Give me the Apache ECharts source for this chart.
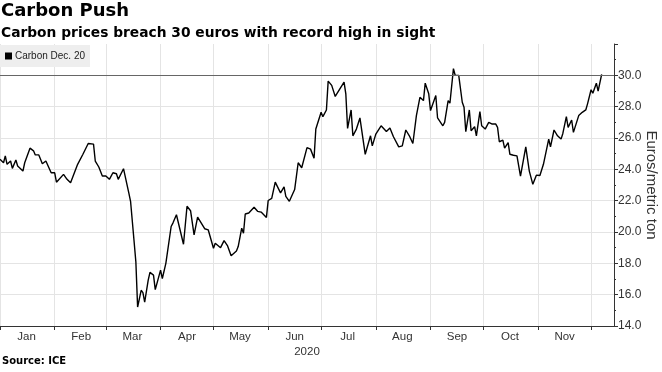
<!DOCTYPE html>
<html>
<head>
<meta charset="utf-8">
<script src="https://cdn.jsdelivr.net/npm/echarts@6/dist/echarts.min.js"></script>
<style>
html,body{margin:0;padding:0;background:#fff;overflow:hidden;}
#chart{width:662px;height:372px;}
</style>
</head>
<body>
<div id="chart"></div>
<script>
const chartTitle = 'Carbon Push';
const chartSubtitle = 'Carbon prices breach 30 euros with record high in sight';
const sourceText = 'Source: ICE';
const seriesName = 'Carbon Dec. 20';
const yAxisName = 'Euros/metric ton';
const xAxisName = '2020';
const monthLabels = ['Jan','Feb','Mar','Apr','May','Jun','Jul','Aug','Sep','Oct','Nov'];
const yMin = 14, yMax = 32, yStep = 2;
const refLevel = 30;

const dates = [
  '2020-01-01','2020-01-03','2020-01-04','2020-01-05','2020-01-07','2020-01-08','2020-01-10','2020-01-11','2020-01-14','2020-01-15',
  '2020-01-18','2020-01-20','2020-01-21','2020-01-23','2020-01-25','2020-01-27','2020-01-28','2020-01-30','2020-01-31','2020-02-01',
  '2020-02-02','2020-02-06','2020-02-08','2020-02-10','2020-02-11','2020-02-14','2020-02-15','2020-02-17','2020-02-18','2020-02-20',
  '2020-02-23','2020-02-24','2020-02-26','2020-02-27','2020-02-28','2020-03-01','2020-03-03','2020-03-05','2020-03-07','2020-03-08',
  '2020-03-09','2020-03-11','2020-03-12','2020-03-14','2020-03-15','2020-03-17','2020-03-18','2020-03-19','2020-03-21','2020-03-22',
  '2020-03-23','2020-03-25','2020-03-26','2020-03-28','2020-03-29','2020-04-01','2020-04-02','2020-04-04','2020-04-05','2020-04-07',
  '2020-04-08','2020-04-10','2020-04-11','2020-04-14','2020-04-16','2020-04-18','2020-04-20','2020-04-22','2020-04-26','2020-04-28',
  '2020-05-01','2020-05-02','2020-05-05','2020-05-07','2020-05-09','2020-05-11','2020-05-14','2020-05-15','2020-05-17','2020-05-18',
  '2020-05-19','2020-05-21','2020-05-24','2020-05-25','2020-05-26','2020-05-28','2020-05-29','2020-05-31','2020-06-01','2020-06-03',
  '2020-06-05','2020-06-08','2020-06-10','2020-06-11','2020-06-13','2020-06-16','2020-06-17','2020-06-18','2020-06-20','2020-06-23',
  '2020-06-25','2020-06-27','2020-06-28','2020-07-01','2020-07-02','2020-07-04','2020-07-05','2020-07-07','2020-07-08','2020-07-09',
  '2020-07-14','2020-07-15','2020-07-16','2020-07-18','2020-07-19','2020-07-21','2020-07-22','2020-07-23','2020-07-26','2020-07-29',
  '2020-07-30','2020-08-01','2020-08-02','2020-08-04','2020-08-05','2020-08-07','2020-08-09','2020-08-11','2020-08-12','2020-08-14',
  '2020-08-16','2020-08-18','2020-08-20','2020-08-22','2020-08-24','2020-08-26','2020-08-27','2020-08-28','2020-08-29','2020-08-31',
  '2020-09-01','2020-09-04','2020-09-05','2020-09-08','2020-09-09','2020-09-11','2020-09-12','2020-09-14','2020-09-15','2020-09-16',
  '2020-09-17','2020-09-19','2020-09-20','2020-09-21','2020-09-23','2020-09-24','2020-09-26','2020-09-27','2020-09-29','2020-09-30',
  '2020-10-01','2020-10-02','2020-10-04','2020-10-06','2020-10-08','2020-10-09','2020-10-10','2020-10-12','2020-10-13','2020-10-15',
  '2020-10-16','2020-10-18','2020-10-20','2020-10-22','2020-10-25','2020-10-27','2020-10-28','2020-10-29','2020-10-31','2020-11-02',
  '2020-11-04','2020-11-07','2020-11-08','2020-11-10','2020-11-12','2020-11-14','2020-11-15','2020-11-17','2020-11-18','2020-11-20',
  '2020-11-21','2020-11-24','2020-11-26','2020-11-28','2020-11-29','2020-11-30','2020-12-01','2020-12-02','2020-12-04','2020-12-05',
  '2020-12-07'
];
const prices = [
  24.64,24.42,24.86,24.32,24.53,24.06,24.60,24.21,23.89,24.42,
  25.35,25.18,24.92,24.92,24.36,24.53,24.58,23.78,23.68,23.78,
  23.18,23.68,23.36,23.14,23.25,24.32,24.28,24.96,25.07,25.65,
  25.61,24.53,24.15,24.21,23.57,23.57,23.36,23.78,23.72,23.36,
  23.29,24.04,23.93,22.50,21.96,19.39,18.10,15.21,16.28,16.13,
  15.53,16.93,17.42,17.25,16.32,17.57,17.03,18.00,17.93,20.35,
  20.57,21.10,21.06,19.22,21.64,21.36,19.82,20.95,20.21,20.14,
  18.96,19.28,19.00,19.45,19.11,18.49,18.79,19.07,20.24,19.92,
  21.15,21.21,21.58,21.53,21.32,21.27,21.36,20.93,22.01,22.14,
  23.18,22.50,22.88,22.28,21.96,22.71,22.75,24.42,24.10,25.39,
  25.29,24.71,26.57,27.64,27.36,27.79,29.63,29.36,29.25,28.65,
  29.57,28.82,26.61,27.79,26.14,26.57,26.61,27.28,24.96,26.14,
  25.50,26.25,26.14,26.78,26.68,26.42,26.64,26.08,26.03,25.43,
  25.50,26.51,26.14,25.65,27.43,28.60,28.56,28.39,29.50,28.82,
  27.75,28.71,27.28,26.78,27.00,28.39,28.22,30.43,30.00,29.94,
  30.00,28.28,27.96,26.40,27.79,26.46,26.72,26.14,27.68,26.78,
  26.89,26.57,27.00,26.89,26.89,26.68,25.76,25.86,25.35,25.71,
  24.96,24.90,24.86,23.57,25.43,23.89,24.00,23.04,23.63,23.61,
  24.32,25.93,25.43,26.51,26.14,25.93,26.29,27.36,26.68,27.15,
  26.36,27.43,27.64,27.79,28.18,28.20,29.08,28.86,29.50,28.99,
  30.06
];

const axisColor = '#333';
const gridColor = '#e4e4e4';
const DAY = 86400000;

const chart = echarts.init(document.getElementById('chart'), null, {renderer: 'canvas'});
chart.setOption({
  animation: false,
  backgroundColor: '#fff',
  title: [
    {text: chartTitle, left: 1, top: 2, padding: 0,
     textStyle: {fontFamily: 'DejaVu Sans', fontWeight: 'bold', fontSize: 18, color: '#000'}},
    {text: chartSubtitle, left: 1, top: 26, padding: 0,
     textStyle: {fontFamily: 'DejaVu Sans', fontWeight: 'bold', fontSize: 13.8, color: '#000'}},
    {text: sourceText, left: 2, top: 356, padding: 0,
     textStyle: {fontFamily: 'DejaVu Sans', fontWeight: 'bold', fontSize: 10, color: '#000'}}
  ],
  legend: {
    data: [seriesName], left: 0, top: 45,
    backgroundColor: '#eeeeee', padding: [6, 5, 6, 5],
    icon: 'rect', itemWidth: 7, itemHeight: 7, itemGap: 4,
    textStyle: {fontFamily: 'Liberation Sans', fontSize: 10, color: '#222', padding: [0,0,0,-2]}
  },
  grid: {left: 0, right: 48, top: 44, bottom: 46, containLabel: false, outerBoundsMode: 'none'},
  xAxis: {
    type: 'time',
    min: '2020-01-01', max: '2020-12-14',
    minInterval: 28 * DAY, maxInterval: 31 * DAY,
    name: xAxisName, nameLocation: 'middle', nameGap: 20, nameMoveOverlap: false,
    nameTextStyle: {fontFamily: 'Liberation Sans', fontSize: 11.5, color: axisColor},
    axisLine: {show: true, lineStyle: {color: axisColor, width: 1}},
    axisTick: {show: true, length: 4, lineStyle: {color: axisColor}},
    axisLabel: {
      fontFamily: 'Liberation Sans', fontSize: 11.5, color: axisColor, margin: 5,
      align: 'center', padding: [0, 0, 0, 53],
      formatter: function (v) { return monthLabels[new Date(v).getMonth()] || ''; }
    },
    splitLine: {show: true, showMinLine: false, lineStyle: {color: gridColor, width: 1}}
  },
  yAxis: {
    type: 'value', position: 'right',
    min: yMin, max: yMax, interval: yStep,
    name: yAxisName, nameLocation: 'middle', nameRotate: -90, nameGap: 30, nameMoveOverlap: false,
    nameTextStyle: {fontFamily: 'Liberation Sans', fontSize: 15, color: axisColor},
    axisLine: {show: true, lineStyle: {color: axisColor, width: 1}},
    axisTick: {show: true, length: 4, lineStyle: {color: axisColor}},
    minorTick: {show: true, splitNumber: 2, length: 2, lineStyle: {color: axisColor}},
    axisLabel: {
      fontFamily: 'Liberation Sans', fontSize: 12, color: axisColor, margin: 4,
      showMaxLabel: false,
      formatter: function (v) { return v.toFixed(1); }
    },
    splitLine: {show: true, showMaxLine: false, lineStyle: {color: gridColor, width: 1}}
  },
  series: [{
    name: seriesName, type: 'line',
    data: dates.map(function (d, i) { return [d, prices[i]]; }),
    symbol: 'none', showSymbol: false,
    itemStyle: {color: '#000'},
    lineStyle: {color: '#000', width: 1.4},
    markLine: {
      silent: true, symbol: 'none', label: {show: false},
      lineStyle: {color: '#666', type: 'solid', width: 1},
      data: [{yAxis: refLevel}]
    }
  }]
});
</script>
</body>
</html>
